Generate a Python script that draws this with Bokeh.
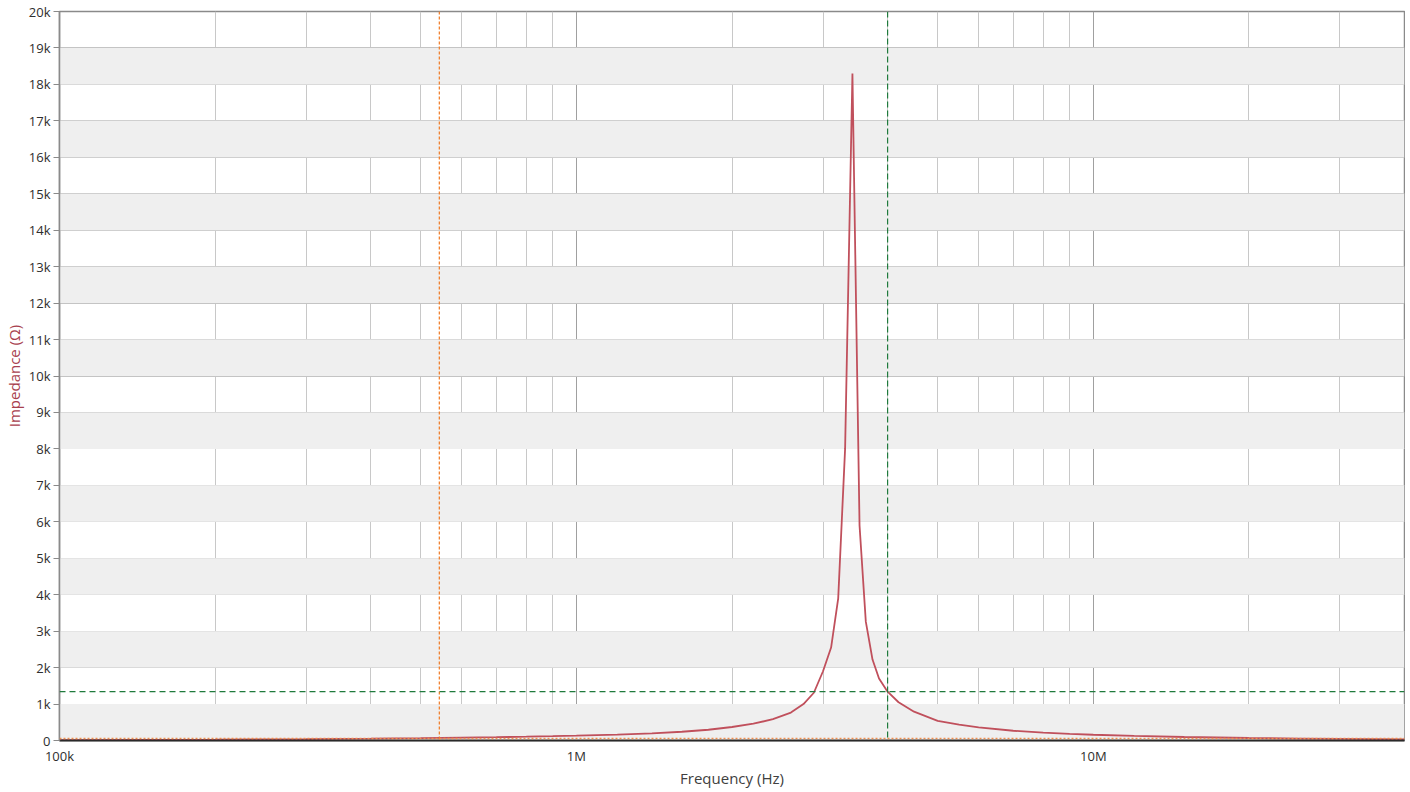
from bokeh.plotting import figure
from bokeh.models import (FixedTicker, CustomJSTickFormatter, Span, BoxAnnotation,
                          ColumnDataSource)
from bokeh.embed import file_html
from bokeh.resources import INLINE

# ---- data ----
freq_hz = [1e5, 1.5e5, 2e5, 3e5, 4e5, 5e5, 6e5, 7e5, 8e5, 9e5,
           1.0e6, 1.2e6, 1.4e6, 1.6e6, 1.8e6, 2.0e6, 2.2e6, 2.4e6, 2.6e6, 2.75e6,
           2.88e6, 3.0e6, 3.11e6, 3.21e6, 3.31e6, 3.42e6, 3.53e6, 3.63e6, 3.74e6, 3.85e6,
           4.0e6, 4.2e6, 4.5e6, 5.0e6, 5.5e6, 6.0e6, 7.0e6, 8.0e6, 9.0e6, 1.0e7,
           1.2e7, 1.5e7, 2.0e7, 2.5e7, 3.0e7, 3.5e7, 4.0e7]
impedance_ohm = [13, 19, 25, 38, 50, 63, 77, 90, 104, 118,
                 133, 163, 198, 240, 295, 370, 460, 585, 765, 1000,
                 1310, 1900, 2550, 3900, 8000, 18300, 5900, 3260, 2220, 1700,
                 1340, 1050, 790, 540, 435, 362, 268, 215, 182, 158,
                 126, 96, 68, 54, 45, 38, 33]

y_ticks = list(range(0, 20001, 1000))
x_major_ticks = [1e5, 1e6, 1e7]
x_minor_ticks = [2e5, 3e5, 4e5, 5e5, 6e5, 7e5, 8e5, 9e5,
                 2e6, 3e6, 4e6, 5e6, 6e6, 7e6, 8e6, 9e6,
                 2e7, 3e7, 4e7]

cursor_a_freq = 5.43e5
cursor_a_imp = 55
cursor_b_freq = 4.0e6
cursor_b_imp = 1340

FONT = "Open Sans"

p = figure(width=1405, height=790, x_axis_type="log",
           x_range=(1e5, 4e7), y_range=(0, 20000),
           output_backend="svg", toolbar_location=None,
           min_border_left=59, min_border_top=11, min_border_right=1, min_border_bottom=49)

p.background_fill_color = "white"
p.border_fill_color = "white"
p.outline_line_color = "#8a8a8a"
p.outline_line_width = 1.5

# alternating bands
for i in range(0, len(y_ticks) - 1, 2):
    p.add_layout(BoxAnnotation(bottom=y_ticks[i], top=y_ticks[i + 1],
                               fill_color="#efefef", fill_alpha=1.0,
                               line_color=None, level="underlay"))

# axes
p.yaxis.ticker = FixedTicker(ticks=y_ticks)
p.yaxis.formatter = CustomJSTickFormatter(code="return tick == 0 ? '0' : (tick/1000) + 'k';")
p.xaxis.ticker = FixedTicker(ticks=x_major_ticks, minor_ticks=x_minor_ticks)
p.xaxis.formatter = CustomJSTickFormatter(
    code="return tick >= 1e6 ? Math.round(tick/1e6) + 'M' : Math.round(tick/1e3) + 'k';")

for ax in (p.xaxis, p.yaxis):
    ax.major_label_text_font = FONT
    ax.major_label_text_font_size = "13px"
    ax.major_label_text_color = "#2e2e2e"
    ax.axis_label_text_font = FONT
    ax.axis_label_text_font_size = "15px"
    ax.axis_label_text_font_style = "normal"
    ax.minor_tick_line_color = None

p.xaxis.axis_label = "Frequency (Hz)"
p.xaxis.axis_label_text_color = "#404040"
p.xaxis.axis_line_color = "#2a2a2a"
p.xaxis.axis_line_width = 2
p.xaxis.major_tick_out = 0
p.xaxis.major_tick_in = 0
p.xaxis.major_label_standoff = 2
p.xaxis.axis_label_standoff = 0

p.yaxis.axis_label = "Impedance (Ω)"
p.yaxis.axis_label_text_color = "#a8404e"
p.yaxis.axis_line_color = "#8a8a8a"
p.yaxis.axis_line_width = 1.5
p.yaxis.major_tick_line_color = "#8a8a8a"
p.yaxis.major_tick_out = 6
p.yaxis.major_tick_in = 0
p.yaxis.major_label_standoff = 3
p.yaxis.axis_label_standoff = 2

# grids
p.ygrid.grid_line_color = "#c4c4c4"
p.ygrid.grid_line_width = 1
p.xgrid.grid_line_color = "#a0a0a0"
p.xgrid.grid_line_width = 1
p.xgrid.minor_grid_line_color = "#c8c8c8"
p.xgrid.minor_grid_line_width = 1

# cursors
p.add_layout(Span(location=cursor_a_freq, dimension="height", line_color="#f07820",
                  line_dash="3 2", line_width=1.2))
p.add_layout(Span(location=cursor_a_imp, dimension="width", line_color="#f09050",
                  line_dash="2 2", line_width=1.5))
p.add_layout(Span(location=cursor_b_freq, dimension="height", line_color="#1f7a3c",
                  line_dash="6 3", line_width=1.2))
p.add_layout(Span(location=cursor_b_imp, dimension="width", line_color="#1f7a3c",
                  line_dash="6 4", line_width=1.2))

src = ColumnDataSource(dict(f=freq_hz, z=impedance_ohm))
p.line("f", "z", source=src, line_color="#c0505c", line_width=1.8)

open("out.html", "w").write(file_html(p, INLINE))
